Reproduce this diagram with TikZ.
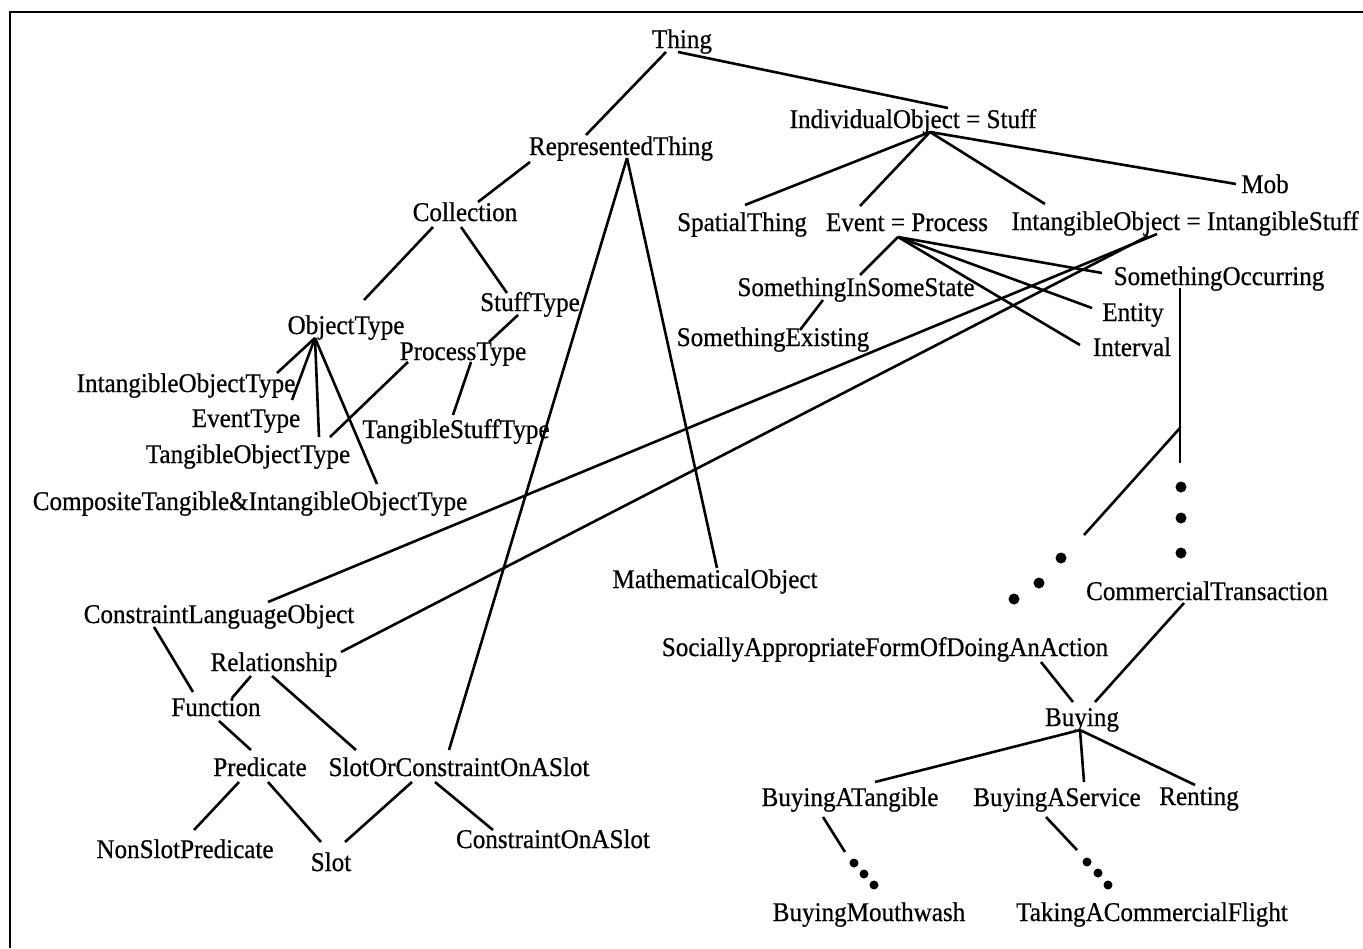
\documentclass[tikz,border=0pt]{standalone}
\usepackage{fontspec}
\setmainfont{Liberation Serif}[FakeStretch=0.93,FakeBold=0.6]
\usetikzlibrary{calc}

\begin{document}
\begin{tikzpicture}[x=1pt,y=-1pt,line width=2.6pt,
    every node/.style={font=\fontsize{27}{32}\selectfont,inner sep=0pt,
      text height=22pt,text depth=6pt}]
  \useasboundingbox (0,0) rectangle (1363,948);
  \draw[line width=2pt] (10,948) -- (10,12) -- (1363,12);

  % upper part
  \node (thing)   at (682,40)  {Thing};
  \node (rep)     at (621,147) {RepresentedThing};
  \node (indiv)   at (913,120) {IndividualObject = Stuff};
  \node (coll)    at (465,213) {Collection};
  \node (spatial) at (742,223) {SpatialThing};
  \node (event)   at (907,223) {Event = Process};
  \node (intang)  at (1185,222) {IntangibleObject = IntangibleStuff};
  \node (mob)     at (1265,185) {Mob};
  \node (stufft)  at (530,303) {StuffType};
  \node (objt)    at (346,326) {ObjectType};
  \node (proct)   at (463,352) {ProcessType};
  \node (iot)     at (186,384) {IntangibleObjectType};
  \node (evt)     at (246,419) {EventType};
  \node (tot)     at (248,455) {TangibleObjectType};
  \node (ctiot)   at (250,502) {CompositeTangible\&IntangibleObjectType};
  \node (tst)     at (456,430) {TangibleStuffType};
  \node (siss)    at (856,288) {SomethingInSomeState};
  \node (sex)     at (773,338) {SomethingExisting};
  \node (socc)    at (1219,277) {SomethingOccurring};
  \node (entity)  at (1133,313) {Entity};
  \node (interval) at (1132,348) {Interval};
  \node (math)    at (715,580) {MathematicalObject};

  % lower left
  \node (clo)   at (219,615) {ConstraintLanguageObject};
  \node (rel)   at (274,663) {Relationship};
  \node (func)  at (216,708) {Function};
  \node (pred)  at (260,768) {Predicate};
  \node (socas) at (459,768) {SlotOrConstraintOnASlot};
  \node (nsp)   at (185,850) {NonSlotPredicate};
  \node (slot)  at (331,863) {Slot};
  \node (coas)  at (553,840) {ConstraintOnASlot};

  % lower right
  \node (comm)   at (1207,592) {CommercialTransaction};
  \node (social) at (885,648)  {SociallyAppropriateFormOfDoingAnAction};
  \node (buying) at (1082,718) {Buying};
  \node (bat)    at (850,798)  {BuyingATangible};
  \node (bas)    at (1057,798) {BuyingAService};
  \node (rent)   at (1199,797) {Renting};
  \node (bmw)    at (869,913)  {BuyingMouthwash};
  \node (tacf)   at (1152,913) {TakingACommercialFlight};

  \coordinate (vend) at (1180,463);
  \coordinate (fork) at (1180,428);
  \coordinate (dend) at (1084,535);
  \coordinate (bmwend) at (845,852);
  \coordinate (tacfend) at (1077,850);

  % connectors
  \draw ($(thing)+(-16,12)$) -- ($(rep)+(-35,-12)$);
  \draw ($(thing)+(-4,12)$) -- ($(indiv)+(35,-12)$);
  \draw ($(rep)+(-91,15)$) -- ($(coll)+(13,-11)$);
  \draw ($(rep)+(6,11)$) -- ($(socas)+(-10,-18)$);
  \draw ($(rep)+(6,11)$) -- ($(math)+(2,-12)$);
  \draw ($(coll)+(-32,14)$) -- ($(objt)+(18,-26)$);
  \draw ($(coll)+(-4,14)$) -- ($(stufft)+(-23,-10)$);
  \draw ($(stufft)+(-12,12)$) -- ($(proct)+(26,-10)$);
  \draw ($(proct)+(8,10)$) -- ($(tst)+(-3,-15)$);
  \draw ($(proct)+(-55,10)$) -- ($(tot)+(82,-18)$);
  \foreach \n/\dx/\dy in {iot/91/-11,evt/46/-19,tot/71/-18,ctiot/127/-18}
    \draw ($(objt)+(-31,12)$) -- ($(\n)+(\dx,\dy)$);
  \foreach \n/\dx/\dy in {spatial/3/-18,event/-47/-17,intang/-140/-18,mob/-29/-1}
    \draw ($(indiv)+(17,12)$) -- ($(\n)+(\dx,\dy)$);
  \foreach \n/\dx/\dy in {siss/4/-13,socc/-117/-4,entity/-41/-5,interval/-52/-3}
    \draw ($(event)+(-9,14)$) -- ($(\n)+(\dx,\dy)$);
  \draw ($(siss)+(-33,12)$) -- ($(sex)+(27,-8)$);
  \draw ($(intang)+(-28,12)$) -- ($(clo)+(49,-13)$);
  \draw ($(intang)+(-37,14)$) -- ($(rel)+(67,-11)$);
  \draw ($(socc)+(-39,11)$) -- (vend);
  \draw (fork) -- (dend);
  \foreach \p in {(1181,487),(1181,518),(1181,553),(1061,558),(1039,583),(1014,599)}
    \fill \p circle (5.5);

  \draw ($(clo)+(-65,12)$) -- ($(func)+(-23,-16)$);
  \draw ($(rel)+(-23,13)$) -- ($(func)+(16,-10)$);
  \draw ($(rel)+(-2,13)$) -- ($(socas)+(-103,-18)$);
  \draw ($(func)+(3,13)$) -- ($(pred)+(-9,-18)$);
  \draw ($(pred)+(-21,14)$) -- ($(nsp)+(9,-20)$);
  \draw ($(pred)+(8,14)$) -- ($(slot)+(-10,-21)$);
  \draw ($(socas)+(-47,14)$) -- ($(slot)+(14,-21)$);
  \draw ($(socas)+(-24,14)$) -- ($(coas)+(-60,-10)$);

  \draw ($(comm)+(-23,11)$) -- ($(buying)+(13,-16)$);
  \draw ($(social)+(156,14)$) -- ($(buying)+(-9,-16)$);
  \foreach \n/\dx/\dy in {bat/25/-16,bas/27/-16,rent/-4/-12}
    \draw ($(buying)+(-2,12)$) -- ($(\n)+(\dx,\dy)$);
  \draw ($(bat)+(-27,19)$) -- (bmwend);
  \draw ($(bas)+(-11,19)$) -- (tacfend);
  \foreach \p in {(854,863),(864,874),(874,885),(1087,862),(1098,873),(1108,885)}
    \fill \p circle (4.5);
\end{tikzpicture}
\end{document}
